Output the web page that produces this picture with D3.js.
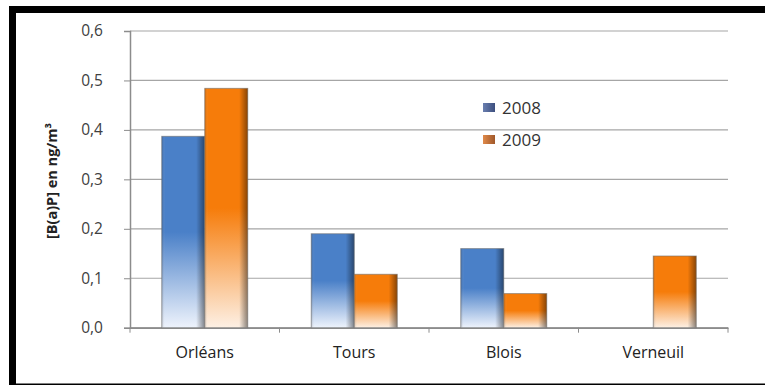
<!DOCTYPE html>
<html><head><meta charset="utf-8">
<script src="https://cdn.jsdelivr.net/npm/d3@7"></script>
<style>body{margin:0;background:#fff}svg{display:block}</style>
</head><body>
<svg id="chart" width="765" height="385"></svg>
<script>
const categories = ["Orléans", "Tours", "Blois", "Verneuil"];
const seriesNames = ["2008", "2009"];
const values2008 = [0.387, 0.19, 0.16, null];
const values2009 = [0.484, 0.108, 0.069, 0.145];
const yTicks = [0, 0.1, 0.2, 0.3, 0.4, 0.5, 0.6];
const yTitle = "[B(a)P] en ng/m³";

const svg = d3.select("#chart");
const W = 765, H = 385;
const m = {left: 130, right: 37, top: 31, bottom: 57.3};
const x0 = d3.scaleBand().domain(categories).range([m.left, W - m.right]).paddingInner(0).paddingOuter(0);
const x1 = d3.scaleBand().domain(seriesNames).range([0, 86]);
const y = d3.scaleLinear().domain([0, 0.6]).range([H - m.bottom, m.top]);

const defs = svg.append("defs");
function vgrad(id, top, bottom){
  const g = defs.append("linearGradient").attr("id", id).attr("x1",0).attr("y1",0).attr("x2",0).attr("y2",1);
  g.append("stop").attr("offset","0%").attr("stop-color", top);
  g.append("stop").attr("offset","50%").attr("stop-color", top);
  g.append("stop").attr("offset","100%").attr("stop-color", bottom);
}
vgrad("g2008", "#4a80c8", "#eef3fc");
vgrad("g2009", "#f67c0a", "#fdf0e4");
const sh = defs.append("linearGradient").attr("id","shade").attr("x1",0).attr("y1",0).attr("x2",1).attr("y2",0);
sh.append("stop").attr("offset","0%").attr("stop-color","#000").attr("stop-opacity",0.18);
sh.append("stop").attr("offset","8%").attr("stop-color","#fff").attr("stop-opacity",0.0);
sh.append("stop").attr("offset","80%").attr("stop-color","#000").attr("stop-opacity",0.0);
sh.append("stop").attr("offset","100%").attr("stop-color","#000").attr("stop-opacity",0.45);
const lg1 = defs.append("linearGradient").attr("id","l2008").attr("x1",0).attr("y1",0).attr("x2",1).attr("y2",0);
lg1.append("stop").attr("offset","0%").attr("stop-color","#6a7fb0");
lg1.append("stop").attr("offset","100%").attr("stop-color","#3d4f7e");
const lg2 = defs.append("linearGradient").attr("id","l2009").attr("x1",0).attr("y1",0).attr("x2",1).attr("y2",0);
lg2.append("stop").attr("offset","0%").attr("stop-color","#e08a4a");
lg2.append("stop").attr("offset","100%").attr("stop-color","#a0582a");

// frame
svg.append("rect").attr("x",9).attr("y",6).attr("width",W-9).attr("height",7).attr("fill","#000");
svg.append("rect").attr("x",9).attr("y",6).attr("width",7).attr("height",H-6).attr("fill","#000");
svg.append("rect").attr("x",9).attr("y",H-1.5).attr("width",W-9).attr("height",1.5).attr("fill","#000");

// grid
svg.append("g").selectAll("line").data(yTicks).join("line")
  .attr("x1", m.left).attr("x2", W - m.right)
  .attr("y1", d => y(d)).attr("y2", d => y(d))
  .attr("stroke", "#a6a6a6").attr("stroke-width", 1.2);

// y axis
const yAxis = d3.axisLeft(y).tickValues(yTicks).tickSize(6).tickPadding(21)
  .tickFormat(d => d3.format(".1f")(d).replace(".", ","));
const ya = svg.append("g").attr("transform", `translate(${m.left},0)`).call(yAxis);
ya.select(".domain").attr("stroke", "#8c8c8c").attr("stroke-width", 1.5);
ya.selectAll(".tick line").attr("stroke", "#8c8c8c");
ya.selectAll("text").attr("font-family", "'Open Sans', sans-serif").attr("font-size", 15.5).attr("fill", "#404040");

// x axis
const xa = svg.append("g").attr("transform", `translate(0,${y(0)})`)
  .call(d3.axisBottom(x0).tickSize(0).tickPadding(19));
xa.select(".domain").attr("stroke", "#8c8c8c").attr("stroke-width", 1.5);
xa.selectAll("text").attr("font-family", "'Open Sans', sans-serif").attr("font-size", 16).attr("fill", "#222");
const bounds = categories.map(c => x0(c)).concat([x0.range()[1]]);
xa.append("g").selectAll("line").data(bounds).join("line")
  .attr("x1", d => d).attr("x2", d => d).attr("y1", 0).attr("y2", 5)
  .attr("stroke", "#8c8c8c");

// bars
const series = [{name:"2008", vals: values2008}, {name:"2009", vals: values2009}];
const rows = [];
series.forEach(s => s.vals.forEach((v, i) => { if (v != null) rows.push({cat: categories[i], s: s.name, v}); }));
const off = (x0.bandwidth() - 86) / 2;
const bars = svg.append("g").selectAll("g").data(rows).join("g");
bars.append("rect")
  .attr("x", d => x0(d.cat) + off + x1(d.s)).attr("width", x1.bandwidth())
  .attr("y", d => y(d.v)).attr("height", d => y(0) - y(d.v))
  .attr("fill", d => `url(#g${d.s})`);
bars.append("rect")
  .attr("x", d => x0(d.cat) + off + x1(d.s)).attr("width", x1.bandwidth())
  .attr("y", d => y(d.v)).attr("height", d => y(0) - y(d.v))
  .attr("fill", "url(#shade)").attr("stroke", "#6e6e6e").attr("stroke-opacity", 0.6).attr("stroke-width", 1);

// y title
svg.append("text").attr("transform", "translate(57,181) rotate(-90)")
  .attr("text-anchor", "middle").attr("font-family", "'Open Sans', sans-serif")
  .attr("font-weight", "bold").attr("font-size", 14.5).attr("fill", "#222").text(yTitle);

// legend
const lgd = svg.append("g").selectAll("g").data(seriesNames).join("g")
  .attr("transform", (d, i) => `translate(483,${108 + i * 32})`);
lgd.append("rect").attr("x", 0).attr("y", -5).attr("width", 12).attr("height", 9).attr("fill", d => `url(#l${d})`);
lgd.append("text").attr("x", 19).attr("y", 0).attr("dy", "0.36em")
  .attr("font-family", "'Open Sans', sans-serif").attr("font-size", 17).attr("fill", "#333").text(d => d);
</script>
</body></html>
